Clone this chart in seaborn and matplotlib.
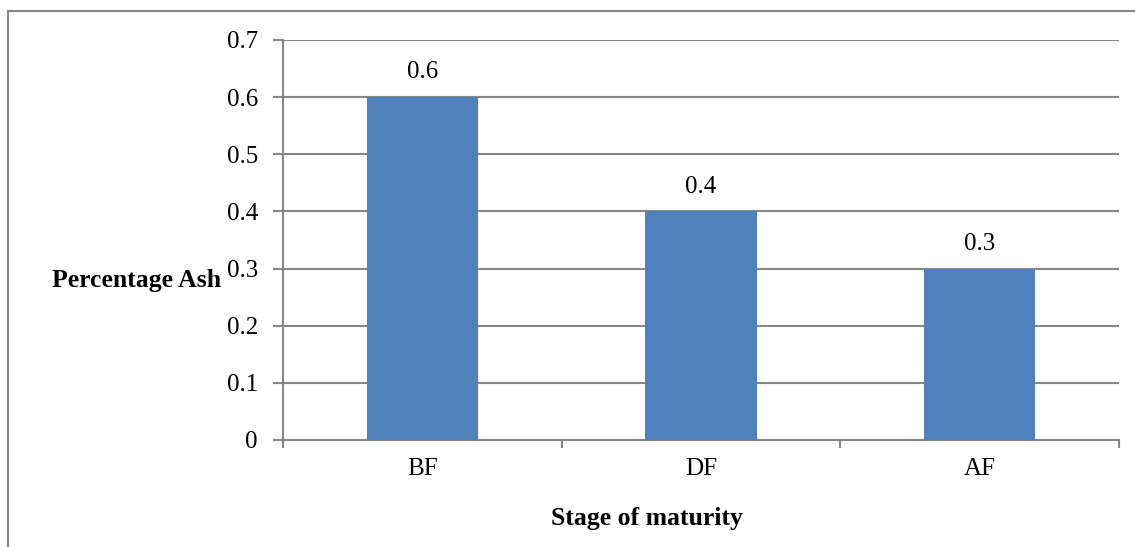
import matplotlib
matplotlib.use("Agg")
import matplotlib.pyplot as plt
import seaborn as sns
import pandas as pd
from matplotlib.patches import Rectangle

stages = ["BF", "DF", "AF"]
ash_pct = [0.6, 0.4, 0.3]
y_ticks = [0, 0.1, 0.2, 0.3, 0.4, 0.5, 0.6, 0.7]

sns.set_style("white")
plt.rcParams["font.family"] = ["Liberation Serif", "DejaVu Serif"]
plt.rcParams["text.color"] = "black"
plt.rcParams["xtick.color"] = "black"
plt.rcParams["ytick.color"] = "black"

grid_col = "#878787"
bar_col = "#4F81BD"

df = pd.DataFrame({"stage": stages, "ash": ash_pct})

fig = plt.figure(figsize=(11.35, 5.47), dpi=100)
ax = fig.add_axes([283 / 1135, 1 - 440 / 547, (1119 - 283) / 1135, 400 / 547])

sns.barplot(data=df, x="stage", y="ash", color=bar_col, width=0.4,
            saturation=1, ax=ax, zorder=3, linewidth=0, edgecolor="none")

ax.set_xlim(-0.5, len(stages) - 0.5)
ax.set_ylim(0, 0.7)
ax.set_yticks(y_ticks)
ax.set_yticklabels([f"{v:g}" for v in y_ticks], fontsize=18)
ax.set_xticklabels(stages, fontsize=18)

# Category boundary ticks on the x axis
ax.set_xticks([i - 0.5 for i in range(len(stages) + 1)], minor=True)
ax.tick_params(axis="x", which="major", bottom=False, length=0, pad=13)
ax.tick_params(axis="x", which="minor", bottom=True, length=6, width=1.5,
               color=grid_col, direction="out")
ax.tick_params(axis="y", left=True, length=7, width=1.5, color=grid_col,
               direction="out", pad=11)

ax.yaxis.grid(True, color=grid_col, linewidth=1.5, zorder=0)
ax.set_axisbelow(True)
for s in ["top", "right"]:
    ax.spines[s].set_visible(False)
for s in ["left", "bottom"]:
    ax.spines[s].set_color(grid_col)
    ax.spines[s].set_linewidth(1.5)

ax.set_xlabel("")
ax.set_ylabel("")

for i, v in enumerate(ash_pct):
    ax.annotate(f"{v:g}", (i, v), xytext=(0, 10), textcoords="offset points",
                ha="center", va="bottom", fontsize=18)

fig.text(221 / 1135, 1 - 280 / 547, "Percentage Ash", ha="right", va="center",
         fontsize=18.5, fontweight="bold")
fig.text(647 / 1135, 1 - 518 / 547, "Stage of maturity", ha="center", va="center",
         fontsize=18.5, fontweight="bold")

# Outer chart frame
fig.patches.append(Rectangle((8 / 1135, -0.1), 1.2, 1.1 - 11 / 547,
                             transform=fig.transFigure, fill=False,
                             edgecolor=grid_col, linewidth=1.5))

fig.savefig("out.png", dpi=100)
